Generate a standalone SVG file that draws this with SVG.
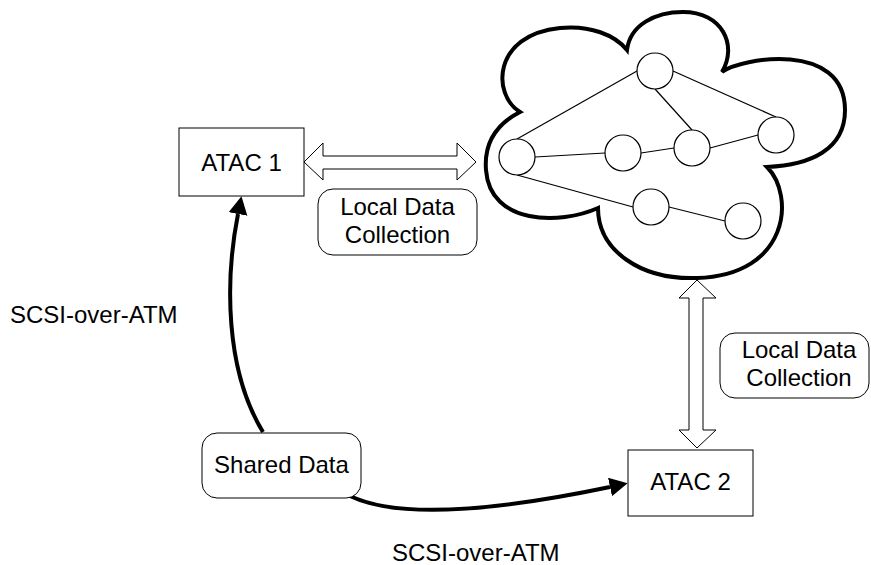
<svg xmlns="http://www.w3.org/2000/svg" width="871" height="565" viewBox="0 0 871 565">
<style>
.t{font-family:"Liberation Sans",Arial,sans-serif;font-size:24px;fill:#000;text-anchor:middle}
.box{fill:#fff;stroke:#000;stroke-width:1}
.lbl{fill:#fff;stroke:#000;stroke-width:1}
.cloud{fill:#fff;stroke:#000;stroke-width:4;stroke-linejoin:miter}
.net{stroke:#000;stroke-width:1.2;fill:none}
.nd{fill:#fff;stroke:#000;stroke-width:1.2}
.dbl{fill:#fff;stroke:#000;stroke-width:1}
.curve{fill:none;stroke:#000;stroke-width:4}
</style>
<defs>
<marker id="ah" markerUnits="userSpaceOnUse" markerWidth="20" markerHeight="20" refX="0" refY="9.5" orient="auto">
<path d="M0,0 L18,9.5 L0,19 z" fill="#000"/>
</marker>
</defs>
<rect width="871" height="565" fill="#fff"/>
<g id="cloud">
<path class="cloud" d="M520,112 C492,95 492,35 560,28 C590,25 615,35 627,50 C630,25 655,12 683,12 C722,12 738,45 722,72 C740,58 845,40 845,110 C845,150 810,165 767,167 C795,195 790,275 697,278 C640,280 598,250 598,208 C560,225 490,225 486,170 C484,145 495,125 520,112 Z"/>
<g id="network">
<line class="net" x1="517" y1="139" x2="637" y2="71"/>
<line class="net" x1="673" y1="71" x2="776" y2="117"/>
<line class="net" x1="655" y1="89" x2="692" y2="130"/>
<line class="net" x1="535" y1="157" x2="605" y2="153"/>
<line class="net" x1="641" y1="153" x2="674" y2="148"/>
<line class="net" x1="710" y1="148" x2="758" y2="135"/>
<line class="net" x1="517" y1="175" x2="633" y2="207"/>
<line class="net" x1="669" y1="207" x2="725" y2="221"/>
<circle class="nd" cx="655" cy="71" r="18"/>
<circle class="nd" cx="517" cy="157" r="18"/>
<circle class="nd" cx="623" cy="153" r="18"/>
<circle class="nd" cx="692" cy="148" r="18"/>
<circle class="nd" cx="776" cy="135" r="18"/>
<circle class="nd" cx="651" cy="207" r="18"/>
<circle class="nd" cx="743" cy="221" r="18"/>
</g>
</g>
<g id="connectors">
<polygon class="dbl" points="304,162 323,143 323,156 457,156 457,143 476,162 457,180 457,169 323,169 323,180"/>
<polygon class="dbl" points="697,280 716,298 703,298 703,430 716,430 697,448 679,430 689,430 689,298 679,298"/>
<path class="curve" d="M263,432 C225,370 225,280 238,214" marker-end="url(#ah)"/>
<path class="curve" d="M350,496 C400,520 500,510 610,487" marker-end="url(#ah)"/>
</g>
<g id="atac1">
<rect class="box" x="179" y="128" width="125" height="68"/>
<text class="t" x="241.5" y="171">ATAC 1</text>
</g>
<g id="atac2">
<rect class="box" x="628" y="450" width="125" height="66"/>
<text class="t" x="690.5" y="490">ATAC 2</text>
</g>
<g id="shared">
<rect class="lbl" x="202" y="433" width="159" height="65" rx="15"/>
<text class="t" x="281.5" y="473">Shared Data</text>
</g>
<g id="ldc1">
<rect class="lbl" x="318" y="189" width="159" height="66" rx="15"/>
<text class="t" x="397.5" y="215">Local Data</text>
<text class="t" x="397.5" y="243">Collection</text>
</g>
<g id="ldc2">
<rect class="lbl" x="720" y="333" width="149" height="65" rx="15"/>
<text class="t" x="799" y="358">Local Data</text>
<text class="t" x="799" y="386">Collection</text>
</g>
<g id="labels">
<text class="t" x="10" y="323" style="text-anchor:start">SCSI-over-ATM</text>
<text class="t" x="392" y="561" style="text-anchor:start">SCSI-over-ATM</text>
</g>
</svg>
